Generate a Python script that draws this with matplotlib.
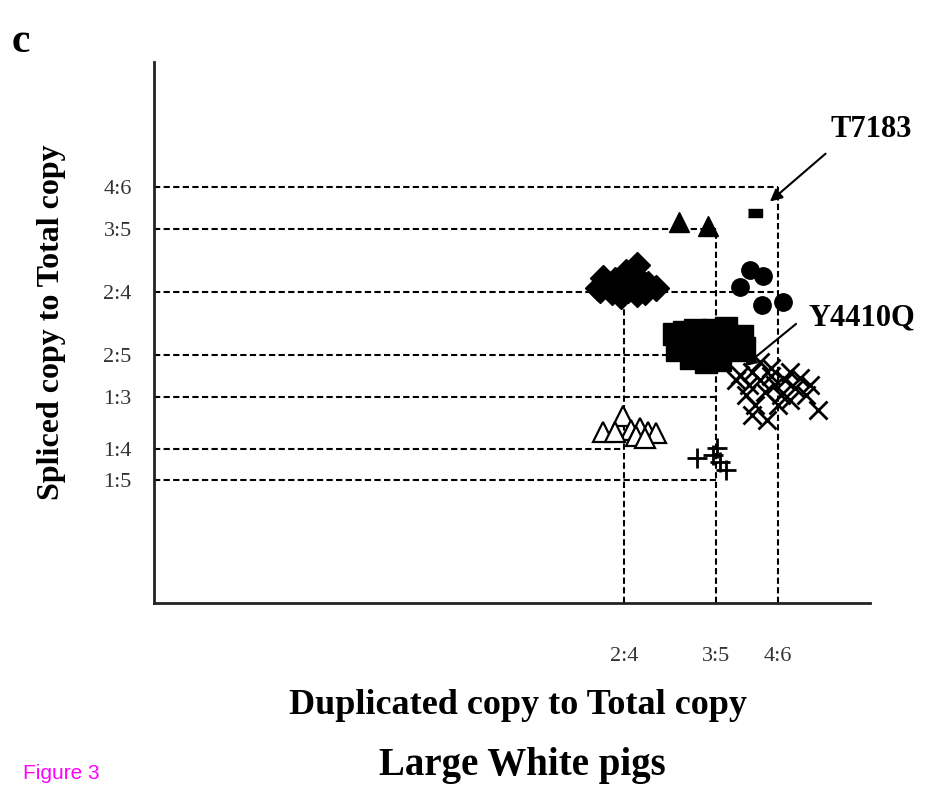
import matplotlib
matplotlib.use('Agg')
import matplotlib.pyplot as plt

plt.rcParams['font.family'] = ['Liberation Serif', 'DejaVu Serif']

# ratio tick positions and labels
x_ticks = [2/4, 3/5, 4/6]
x_labels = ['2:4', '3:5', '4:6']
y_ticks = [4/6, 3/5, 2/4, 2/5, 1/3, 1/4, 1/5]
y_labels = ['4:6', '3:5', '2:4', '2:5', '1:3', '1:4', '1:5']

# where each guide line stops
h_ends = [4/6, 3/5, 4/6, 3/5, 3/5, 2/4, 3/5]
v_ends = [2/4, 3/5, 4/6]

# groups of pigs (duplicated ratio, spliced ratio)
diamond_x = [0.471, 0.480, 0.477, 0.490, 0.498, 0.507, 0.514, 0.517, 0.526, 0.534,
             0.496, 0.514, 0.487, 0.504, 0.523, 0.474, 0.502]
diamond_y = [0.506, 0.514, 0.522, 0.519, 0.522, 0.511, 0.543, 0.519, 0.513, 0.506,
             0.493, 0.497, 0.500, 0.503, 0.500, 0.503, 0.532]

tri_x = [0.559, 0.591]
tri_y = [0.611, 0.605]

t7183_x = [0.642]
t7183_y = [0.626]

circle_x = [0.637, 0.651, 0.626, 0.650, 0.672]
circle_y = [0.535, 0.525, 0.508, 0.479, 0.484]

square_x = [0.554, 0.557, 0.567, 0.572, 0.580, 0.585, 0.596, 0.599, 0.604, 0.613,
            0.621, 0.628, 0.630, 0.589, 0.565, 0.610, 0.577]
square_y = [0.433, 0.407, 0.415, 0.395, 0.423, 0.404, 0.439, 0.415, 0.392, 0.427,
            0.407, 0.430, 0.411, 0.388, 0.436, 0.443, 0.439]

cross_x = [0.626, 0.635, 0.639, 0.648, 0.653, 0.659, 0.664, 0.670, 0.675, 0.680,
           0.686, 0.691, 0.697, 0.632, 0.642, 0.655, 0.639, 0.710, 0.680, 0.702,
           0.667, 0.659, 0.648, 0.621]
cross_y = [0.368, 0.352, 0.372, 0.360, 0.341, 0.366, 0.352, 0.336, 0.360, 0.372,
           0.347, 0.363, 0.336, 0.336, 0.320, 0.296, 0.304, 0.312, 0.328, 0.352,
           0.320, 0.379, 0.388, 0.360]

open_tri_x = [0.477, 0.499, 0.507, 0.517, 0.526, 0.535, 0.513, 0.522, 0.490]
open_tri_y = [0.277, 0.302, 0.280, 0.283, 0.277, 0.275, 0.271, 0.267, 0.277]

plus_x = [0.579, 0.596, 0.601, 0.604, 0.610]
plus_y = [0.236, 0.240, 0.252, 0.229, 0.217]

W, H = 934, 785
fig = plt.figure(figsize=(W / 100, H / 100), dpi=100)
ax = fig.add_axes([154 / W, 1 - 603 / H, 716 / W, 541 / H])

x_min, x_max = -0.011, 0.767
y_min, y_max = 0.005, 0.866
ax.set_xlim(x_min, x_max)
ax.set_ylim(y_min, y_max)

# dashed guide lines
for yv, xe in zip(y_ticks, h_ends):
    ax.plot([x_min, xe], [yv, yv], color='black', lw=1.5, dashes=(3, 1.6), zorder=1)
for xv, ye in zip(x_ticks, v_ends):
    ax.plot([xv, xv], [y_min, ye], color='black', lw=1.5, dashes=(3, 1.6), zorder=1)

ax.plot(diamond_x, diamond_y, 'D', color='black', ms=13, ls='none', zorder=3)
ax.plot(tri_x, tri_y, '^', color='black', ms=15, ls='none', zorder=3)
ax.plot(t7183_x, t7183_y, ls='none', color='black', ms=10, zorder=3,
        marker=[(-1, -0.55), (1, -0.55), (1, 0.55), (-1, 0.55)])
ax.plot(circle_x, circle_y, 'o', color='black', ms=12.5, ls='none', zorder=3)
ax.plot(square_x, square_y, 's', color='black', ms=16, ls='none', zorder=3)
ax.plot(cross_x, cross_y, 'x', color='black', ms=13, mew=2, ls='none', zorder=3)
ax.plot(open_tri_x, open_tri_y, '^', mfc='white', mec='black', ms=15, mew=1.6,
        ls='none', zorder=3)
ax.plot(plus_x, plus_y, '+', color='black', ms=14, mew=2, ls='none', zorder=3)

# labelled pigs
ax.annotate('', xy=(0.656, 0.641), xytext=(0.721, 0.723),
            arrowprops=dict(arrowstyle='-|>', color='black', lw=1.5, mutation_scale=18))
ax.text(0.768, 0.759, 'T7183', ha='center', va='center', fontsize=22,
        fontweight='bold')
ax.annotate('', xy=(0.628, 0.379), xytext=(0.689, 0.452),
            arrowprops=dict(arrowstyle='-|>', color='black', lw=1.5, mutation_scale=18),
            zorder=4)
ax.text(0.758, 0.458, 'Y4410Q', ha='center', va='center', fontsize=22,
        fontweight='bold')

ax.set_xticks(x_ticks)
ax.set_xticklabels(x_labels)
ax.set_yticks(y_ticks)
ax.set_yticklabels(y_labels)
ax.tick_params(axis='x', length=0, pad=32, labelsize=16, labelcolor='#333333')
ax.tick_params(axis='y', length=0, pad=16, labelsize=16, labelcolor='#333333')

for side in ['top', 'right']:
    ax.spines[side].set_visible(False)
for side in ['left', 'bottom']:
    ax.spines[side].set_linewidth(2)
    ax.spines[side].set_color('#222222')

fig.text(12 / W, 1 - 52 / H, 'c', fontsize=30, fontweight='bold', va='baseline')
fig.text(52 / W, 1 - 322 / H, 'Spliced copy to Total copy', rotation=90,
         ha='center', va='center', fontsize=23, fontweight='bold')
fig.text(518 / W, 1 - 706 / H, 'Duplicated copy to Total copy',
         ha='center', va='center', fontsize=26, fontweight='bold')
fig.text(522 / W, 1 - 765 / H, 'Large White pigs',
         ha='center', va='center', fontsize=28, fontweight='bold')
fig.text(23 / W, 1 - 779 / H, 'Figure 3', fontsize=15, color='#ff00ff',
         va='baseline', family=['Liberation Sans', 'DejaVu Sans'])

fig.savefig('out.png', dpi=100)
